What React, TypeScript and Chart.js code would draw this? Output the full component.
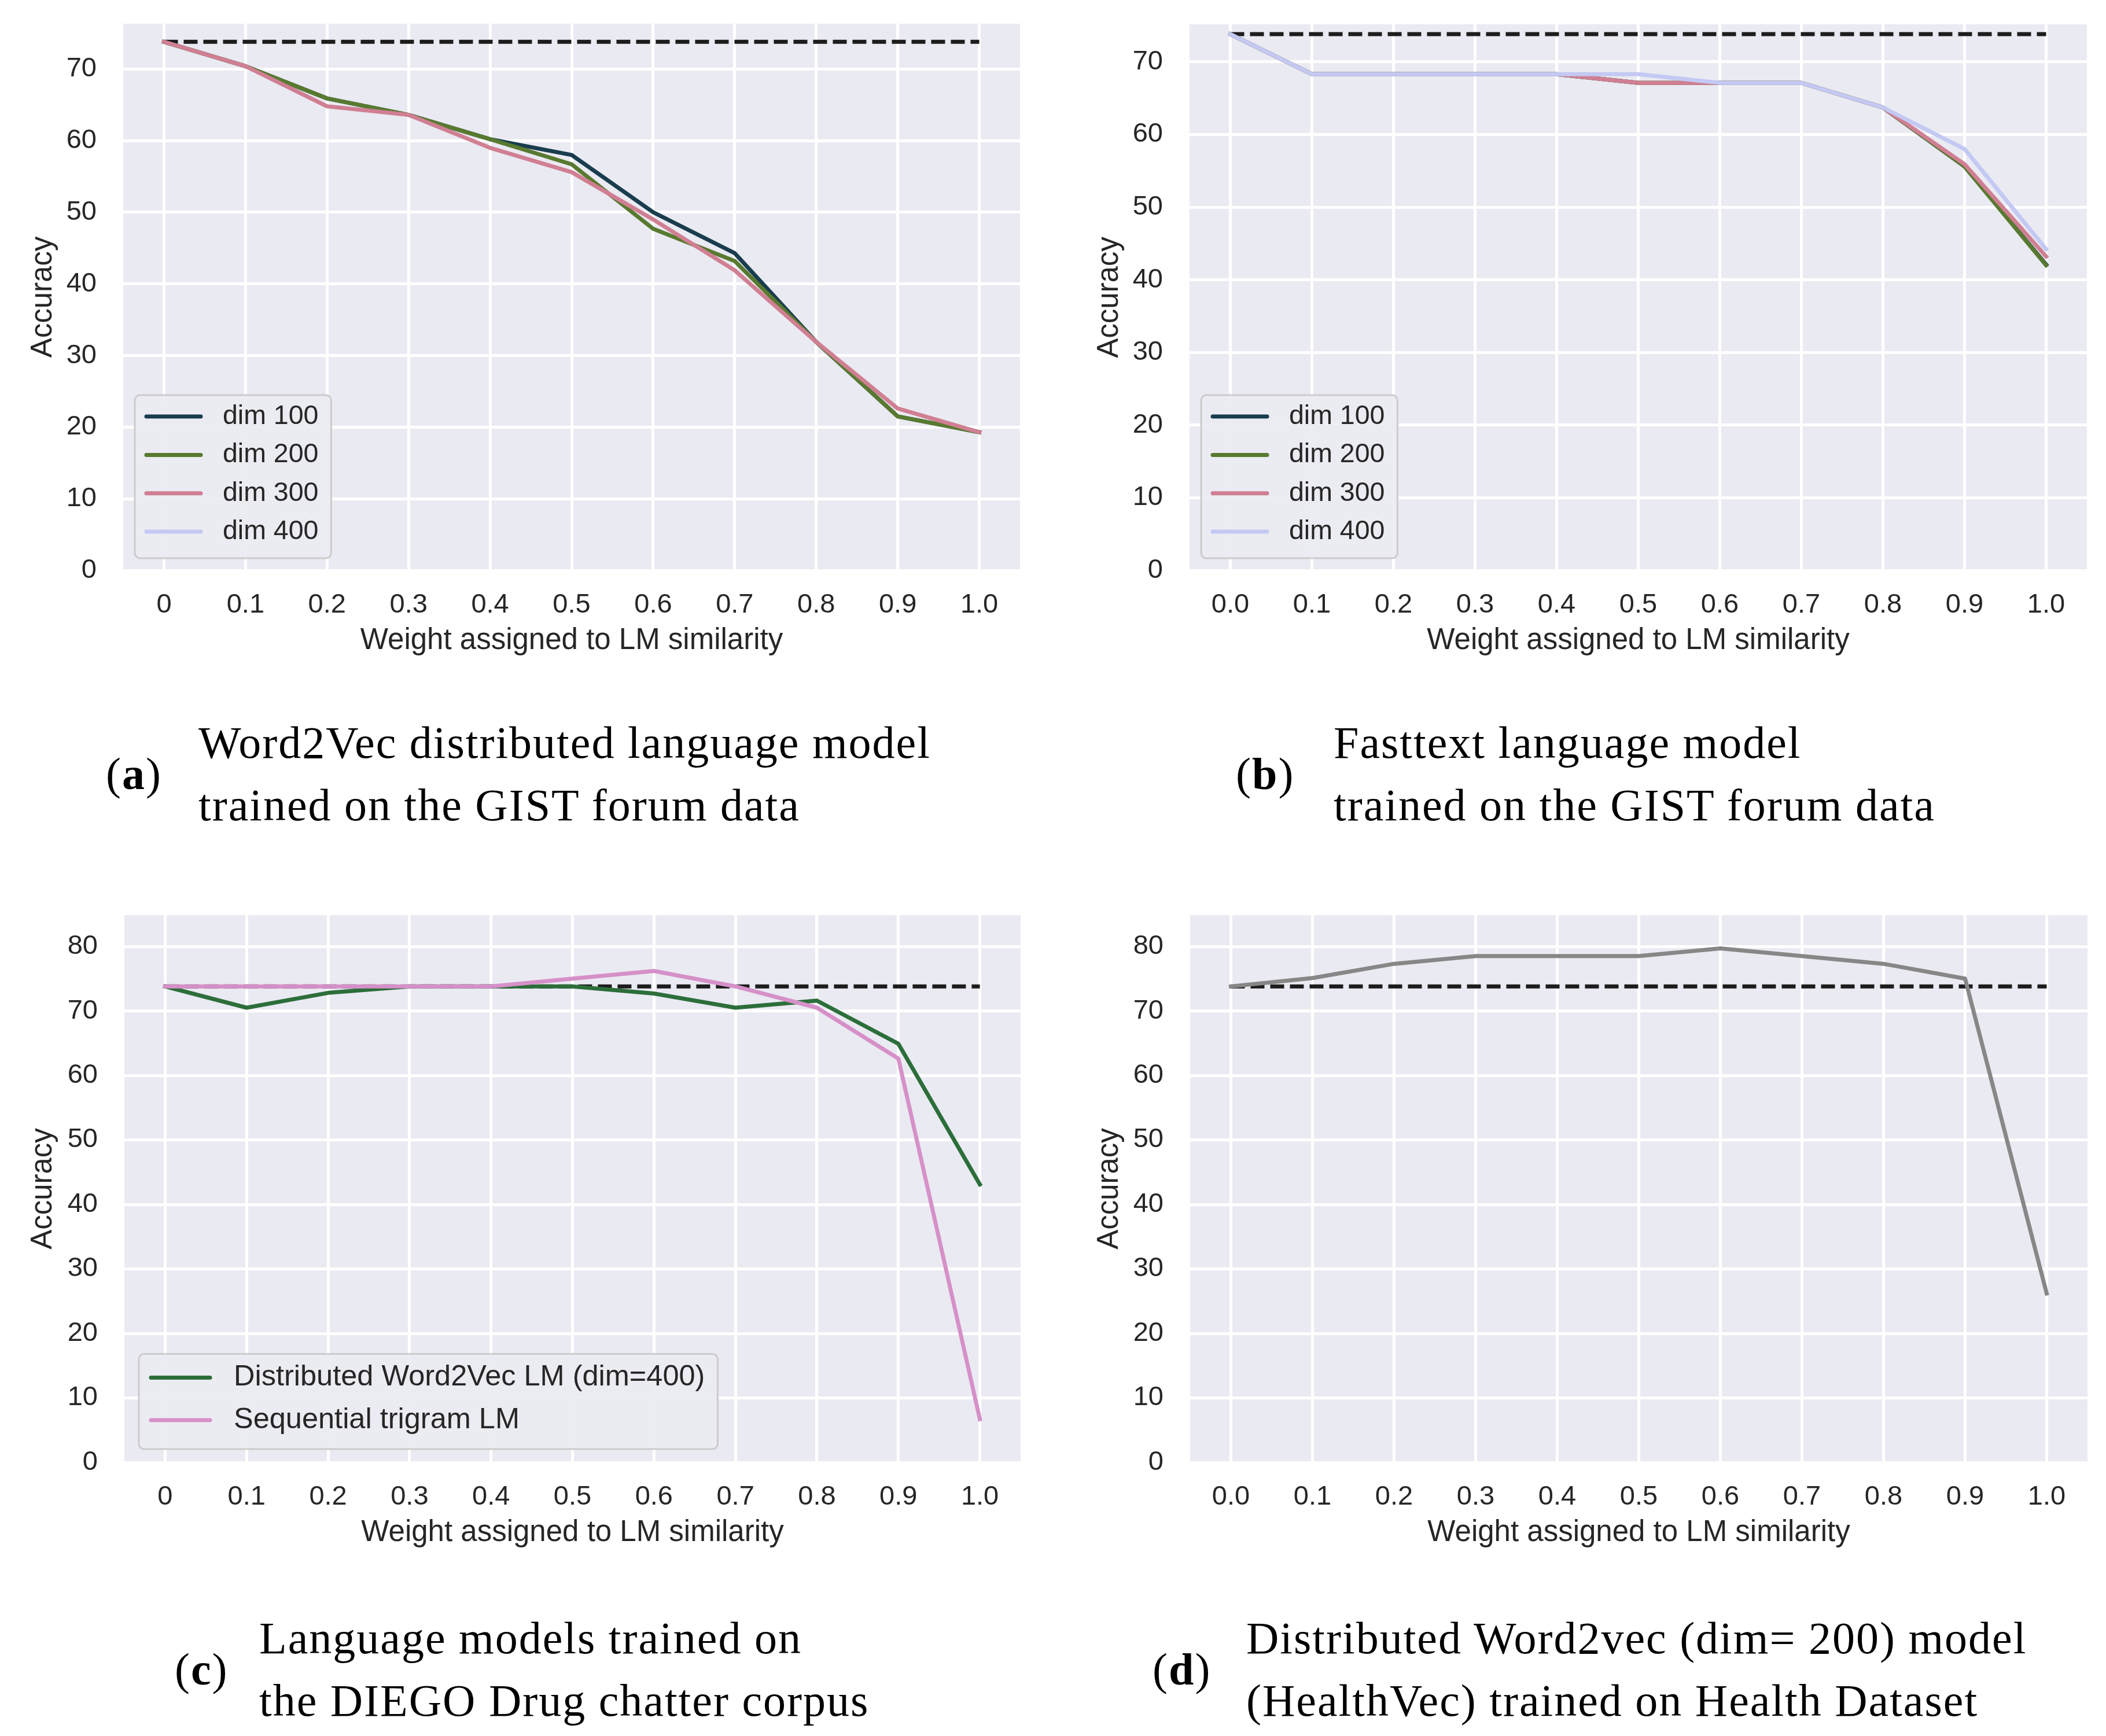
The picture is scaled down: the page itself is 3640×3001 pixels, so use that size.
import React, { useEffect, useRef } from 'react'
import { Chart, registerables } from 'chart.js'

Chart.register(...registerables)

// x positions (weight given to the LM similarity) and their tick labels
const xValues = [0, 0.1, 0.2, 0.3, 0.4, 0.5, 0.6, 0.7, 0.8, 0.9, 1.0]
const xLabelsPlain = ['0', '0.1', '0.2', '0.3', '0.4', '0.5', '0.6', '0.7', '0.8', '0.9', '1.0']
const xLabelsDecimal = ['0.0', '0.1', '0.2', '0.3', '0.4', '0.5', '0.6', '0.7', '0.8', '0.9', '1.0']
const yTicksTo70 = [0, 10, 20, 30, 40, 50, 60, 70]
const yTicksTo80 = [0, 10, 20, 30, 40, 50, 60, 70, 80]

const baselineAcc = 73.8

// (a) Word2Vec on GIST forum data
const w2vDim100 = [73.8, 70.4, 65.9, 63.6, 60.2, 58.0, 50.0, 44.3, 31.9, 21.5, 19.3]
const w2vDim200 = [73.8, 70.4, 65.9, 63.6, 60.2, 56.7, 47.7, 43.2, 31.9, 21.5, 19.3]
const w2vDim300 = [73.8, 70.4, 64.8, 63.6, 59.0, 55.6, 49.0, 41.9, 31.9, 22.6, 19.3]
const w2vDim400: number[] = []

// (b) Fasttext on GIST forum data
const ftDim100 = [73.8, 68.3, 68.3, 68.3, 68.3, 67.1, 67.1, 67.1, 63.7, 55.6, 42.1]
const ftDim200 = [73.8, 68.3, 68.3, 68.3, 68.3, 67.1, 67.1, 67.1, 63.7, 55.6, 42.0]
const ftDim300 = [73.8, 68.3, 68.3, 68.3, 68.3, 67.1, 67.1, 67.1, 63.7, 55.9, 43.2]
const ftDim400 = [73.8, 68.3, 68.3, 68.3, 68.3, 68.3, 67.1, 67.1, 63.7, 58.0, 44.2]

// (c) DIEGO drug chatter corpus
const diegoW2v = [73.8, 70.5, 72.8, 73.8, 73.8, 73.8, 72.7, 70.5, 71.6, 64.9, 43.1]
const diegoTrigram = [73.8, 73.8, 73.8, 73.8, 73.8, 75.0, 76.2, 73.8, 70.5, 62.6, 6.7]

// (d) HealthVec
const healthVec = [73.8, 75.1, 77.3, 78.5, 78.5, 78.5, 79.7, 78.5, 77.3, 75.0, 26.2]

const SANS = '"Liberation Sans", Arial, Helvetica, sans-serif'
const SERIF = '"Liberation Serif", "Times New Roman", serif'
const INK = '#262626'
const PLOT_BG = '#eaeaf2'
const LINE_W = 7
const PAD_TOP = 90
const PAD_RIGHT = 80
const X_AXIS_H = 170

type Series = { label: string; values: number[]; color: string }

type LegendSpec = {
  fontSize: number
  dx: number
  dyBottom: number
  rowH: number
  padTop: number
  padBottom: number
  padLeft: number
  padRight: number
  handleLen: number
  handleGap: number
}

type PanelSpec = {
  canvasLeft: number
  plotLeft: number
  plotTop: number
  plotRight: number
  plotBottom: number
  yMax: number
  yTicks: number[]
  xLabels: string[]
  series: Series[]
  legend: LegendSpec | null
}

const smallLegend: LegendSpec = {
  fontSize: 46.5, dx: 20, dyBottom: 21, rowH: 66.3, padTop: 37, padBottom: 46,
  padLeft: 17, padRight: 22, handleLen: 100, handleGap: 35,
}

const wideLegend: LegendSpec = {
  fontSize: 50.5, dx: 25, dyBottom: 23, rowH: 73.5, padTop: 41, padBottom: 50,
  padLeft: 18, padRight: 22, handleLen: 108, handleGap: 38,
}

const panels: PanelSpec[] = [
  {
    canvasLeft: 0, plotLeft: 213, plotTop: 41, plotRight: 1763, plotBottom: 986,
    yMax: 76.33, yTicks: yTicksTo70, xLabels: xLabelsPlain,
    series: [
      { label: 'dim 100', values: w2vDim100, color: '#193d4e' },
      { label: 'dim 200', values: w2vDim200, color: '#587a30' },
      { label: 'dim 300', values: w2vDim300, color: '#d07f93' },
      { label: 'dim 400', values: w2vDim400, color: '#c3c9f2' },
    ],
    legend: smallLegend,
  },
  {
    canvasLeft: 1843, plotLeft: 2056, plotTop: 42, plotRight: 3607, plotBottom: 986,
    yMax: 75.16, yTicks: yTicksTo70, xLabels: xLabelsDecimal,
    series: [
      { label: 'dim 100', values: ftDim100, color: '#193d4e' },
      { label: 'dim 200', values: ftDim200, color: '#587a30' },
      { label: 'dim 300', values: ftDim300, color: '#d07f93' },
      { label: 'dim 400', values: ftDim400, color: '#c3c9f2' },
    ],
    legend: smallLegend,
  },
  {
    canvasLeft: 0, plotLeft: 215, plotTop: 1582, plotRight: 1764, plotBottom: 2528,
    yMax: 84.85, yTicks: yTicksTo80, xLabels: xLabelsPlain,
    series: [
      { label: 'Distributed Word2Vec LM (dim=400)', values: diegoW2v, color: '#2c6e3a' },
      { label: 'Sequential trigram LM', values: diegoTrigram, color: '#d690c8' },
    ],
    legend: wideLegend,
  },
  {
    canvasLeft: 1843, plotLeft: 2057, plotTop: 1582, plotRight: 3608, plotBottom: 2528,
    yMax: 84.85, yTicks: yTicksTo80, xLabels: xLabelsDecimal,
    series: [{ label: 'HealthVec', values: healthVec, color: '#878787' }],
    legend: null,
  },
]

const plotBackground = {
  id: 'plotBackground',
  beforeDraw(chart: any) {
    const { ctx, chartArea } = chart
    ctx.save()
    ctx.fillStyle = PLOT_BG
    ctx.fillRect(chartArea.left, chartArea.top, chartArea.right - chartArea.left, chartArea.bottom - chartArea.top)
    ctx.restore()
  },
}

// matplotlib-style legend box drawn inside the plot, lower left
const legendBox = {
  id: 'legendBox',
  afterDraw(chart: any, _args: any, opts: any) {
    const spec: LegendSpec = opts.spec
    const items: Series[] = opts.items
    if (!spec || !items) return
    const { ctx, chartArea } = chart
    ctx.save()
    ctx.font = `${spec.fontSize}px ${SANS}`
    const textW = Math.max(...items.map(s => ctx.measureText(s.label).width))
    const w = spec.padLeft + spec.handleLen + spec.handleGap + textW + spec.padRight
    const h = spec.padTop + spec.rowH * (items.length - 1) + spec.padBottom
    const x0 = chartArea.left + spec.dx
    const y0 = chartArea.bottom - spec.dyBottom - h
    ctx.beginPath()
    ctx.roundRect(x0, y0, w, h, 9)
    ctx.fillStyle = 'rgba(234,234,242,0.92)'
    ctx.fill()
    ctx.lineWidth = 3
    ctx.strokeStyle = '#cccccc'
    ctx.stroke()
    items.forEach((s, i) => {
      const cy = y0 + spec.padTop + i * spec.rowH
      ctx.beginPath()
      ctx.moveTo(x0 + spec.padLeft + 3, cy)
      ctx.lineTo(x0 + spec.padLeft + spec.handleLen - 3, cy)
      ctx.lineWidth = LINE_W
      ctx.lineCap = 'round'
      ctx.strokeStyle = s.color
      ctx.stroke()
      ctx.fillStyle = INK
      ctx.textBaseline = 'middle'
      ctx.textAlign = 'left'
      ctx.fillText(s.label, x0 + spec.padLeft + spec.handleLen + spec.handleGap, cy)
    })
    ctx.restore()
  },
}

const PanelChart = ({ spec }: { spec: PanelSpec }) => {
  const canvasRef = useRef<HTMLCanvasElement>(null)
  const canvasTop = spec.plotTop - PAD_TOP
  const width = spec.plotRight + PAD_RIGHT - spec.canvasLeft
  const height = spec.plotBottom + X_AXIS_H - canvasTop

  useEffect(() => {
    if (canvasRef.current == null) return
    const n = spec.series.length
    const datasets: any[] = spec.series.map((s, i) => ({
      label: s.label,
      data: s.values.map((v, j) => ({ x: xValues[j], y: v })),
      borderColor: s.color,
      backgroundColor: s.color,
      borderWidth: LINE_W,
      borderJoinStyle: 'round',
      borderCapStyle: 'square',
      pointRadius: 0,
      tension: 0,
      order: n - i,
    }))
    datasets.push({
      label: 'baseline',
      data: xValues.map(x => ({ x, y: baselineAcc })),
      borderColor: '#1c1c1c',
      borderWidth: LINE_W,
      borderDash: [24, 10],
      pointRadius: 0,
      order: 100,
    })

    const myChart = new Chart(canvasRef.current, {
      type: 'line',
      data: { datasets },
      options: {
        responsive: false,
        animation: false,
        events: [],
        layout: { padding: { top: PAD_TOP, right: PAD_RIGHT, left: 0, bottom: 0 } },
        plugins: {
          legend: { display: false },
          tooltip: { enabled: false },
          legendBox: { spec: spec.legend, items: spec.legend ? spec.series : null },
        } as any,
        scales: {
          x: {
            type: 'linear',
            min: -0.05,
            max: 1.05,
            afterBuildTicks: (scale: any) => {
              scale.ticks = xValues.map(v => ({ value: v }))
            },
            afterFit: (scale: any) => {
              scale.height = X_AXIS_H
            },
            ticks: {
              callback: (_v: any, i: number) => spec.xLabels[i],
              font: { family: SANS, size: 47 },
              color: INK,
              padding: 32,
              maxRotation: 0,
              autoSkip: false,
            },
            grid: { color: '#ffffff', lineWidth: 5, drawTicks: false },
            border: { display: false },
            title: {
              display: true,
              text: 'Weight assigned to LM similarity',
              font: { family: SANS, size: 51 },
              color: INK,
              padding: { top: 0, bottom: 17 },
            },
          },
          y: {
            type: 'linear',
            min: 0,
            max: spec.yMax,
            afterBuildTicks: (scale: any) => {
              scale.ticks = spec.yTicks.map(v => ({ value: v }))
            },
            afterFit: (scale: any) => {
              scale.width = spec.plotLeft - spec.canvasLeft
            },
            ticks: {
              callback: (v: any) => String(v),
              font: { family: SANS, size: 47 },
              color: INK,
              padding: 46,
            },
            grid: { color: '#ffffff', lineWidth: 5, drawTicks: false },
            border: { display: false },
            title: {
              display: true,
              text: 'Accuracy',
              font: { family: SANS, size: 51 },
              color: INK,
              padding: { top: 44, bottom: 0 },
            },
          },
        },
      },
      plugins: [plotBackground, legendBox],
    } as any)

    return () => {
      myChart.destroy()
    }
  }, [spec])

  return (
    <canvas
      ref={canvasRef}
      width={width}
      height={height}
      style={{ position: 'absolute', left: spec.canvasLeft, top: canvasTop, width, height }}
    />
  )
}

type CaptionProps = { labelLeft: number; textLeft: number; top: number; tag: string; lines: string[] }

const Caption = ({ labelLeft, textLeft, top, tag, lines }: CaptionProps) => (
  <div
    style={{
      position: 'absolute',
      left: labelLeft,
      top,
      display: 'flex',
      alignItems: 'center',
      fontFamily: SERIF,
      fontSize: 78,
      lineHeight: '108px',
      letterSpacing: '2px',
      color: '#000',
      whiteSpace: 'nowrap',
    }}
  >
    <div style={{ width: textLeft - labelLeft }}>
      (<b>{tag}</b>)
    </div>
    <div>
      {lines.map(l => (
        <div key={l}>{l}</div>
      ))}
    </div>
  </div>
)

const App = () => {
  return (
    <div
      style={{
        position: 'absolute',
        left: 0,
        top: 0,
        width: 3640,
        height: 3001,
        background: '#ffffff',
        overflow: 'hidden',
      }}
    >
      {panels.map((p, i) => (
        <PanelChart key={i} spec={p} />
      ))}
      <Caption labelLeft={183} textLeft={343} top={1230} tag="a"
        lines={['Word2Vec distributed language model', 'trained on the GIST forum data']} />
      <Caption labelLeft={2136} textLeft={2305} top={1230} tag="b"
        lines={['Fasttext language model', 'trained on the GIST forum data']} />
      <Caption labelLeft={302} textLeft={448} top={2778} tag="c"
        lines={['Language models trained on', 'the DIEGO Drug chatter corpus']} />
      <Caption labelLeft={1992} textLeft={2154} top={2778} tag="d"
        lines={['Distributed Word2vec (dim= 200) model', '(HealthVec) trained on Health Dataset']} />
    </div>
  )
}

export default App
